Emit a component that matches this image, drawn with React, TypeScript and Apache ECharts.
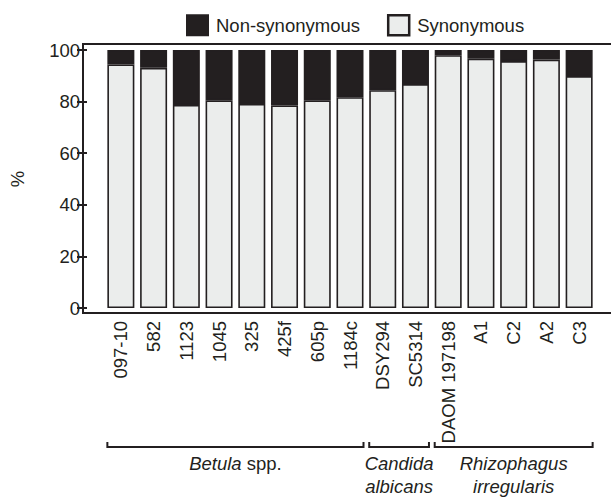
import React, { useEffect, useRef } from "react";
import * as echarts from "echarts";

// Isolates / strains on the category axis
const categories = [
  "097-10", "582", "1123", "1045", "325", "425f", "605p", "1184c",
  "DSY294", "SC5314",
  "DAOM 197198", "A1", "C2", "A2", "C3",
];

// Share of synonymous vs non-synonymous changes (%) per isolate
const synonymous = [94.4, 93.1, 78.7, 80.5, 79.1, 78.5, 80.5, 81.7, 84.4, 86.8, 98.0, 96.6, 95.7, 96.3, 89.9];
const nonSynonymous = [5.6, 6.9, 21.3, 19.5, 20.9, 21.5, 19.5, 18.3, 15.6, 13.2, 2.0, 3.4, 4.3, 3.7, 10.1];

// Value-axis ticks
const yTicks = [0, 20, 40, 60, 80, 100];

// Species groups spanning category indices
const groups = [
  { first: 0, last: 7, lines: ["{i|Betula} spp."] },
  { first: 8, last: 9, lines: ["{i|Candida}", "{i|albicans}"] },
  { first: 10, last: 14, lines: ["{i|Rhizophagus}", "{i|irregularis}"] },
];

const INK = "#231f20";
const PAPER = "#ebedec";
const FONT = '"Liberation Sans", Arial, Helvetica, sans-serif';
const FS = 18.5;

const W = 611;
const H = 498;
const GRID_LEFT = 100.5;
const GRID_RIGHT = 15.5;
const GRID_TOP = 50;
const GRID_BOTTOM = 190;
const Y_OFFSET = 17.5;
const BAR_WIDTH = 27;

export default function App() {
  const ref = useRef<HTMLDivElement>(null);

  useEffect(() => {
    if (!ref.current) return;
    const chart = echarts.init(ref.current, null, { renderer: "svg" });

    chart.setOption({
      animation: false,
      backgroundColor: "#ffffff",
      textStyle: { fontFamily: FONT, color: INK },
      legend: {
        data: [
          { name: "Non-synonymous" },
          { name: "Synonymous", itemStyle: { borderWidth: 2.5 } },
        ],
        left: 181,
        top: 9,
        itemWidth: 21,
        itemHeight: 20,
        itemGap: 27,
        icon: "rect",
        textStyle: { fontFamily: FONT, fontSize: FS, color: INK, padding: [0, 0, 0, 3] },
      },
      grid: {
        left: GRID_LEFT,
        right: GRID_RIGHT,
        top: GRID_TOP,
        bottom: GRID_BOTTOM,
        containLabel: false,
      },
      xAxis: {
        type: "category",
        data: categories,
        axisLine: { show: false },
        axisTick: { show: false },
        axisLabel: {
          rotate: 90,
          interval: 0,
          margin: 13,
          fontFamily: FONT,
          fontSize: FS,
          color: INK,
        },
      },
      yAxis: {
        type: "value",
        min: yTicks[0],
        max: yTicks[yTicks.length - 1],
        interval: yTicks[1] - yTicks[0],
        offset: Y_OFFSET,
        axisLine: { show: false },
        axisTick: { show: true, length: 10, lineStyle: { color: INK, width: 2 } },
        splitLine: { show: false },
        axisLabel: { margin: 7, fontFamily: FONT, fontSize: FS, color: INK },
        name: "%",
        nameLocation: "middle",
        nameRotate: 90,
        nameGap: 60,
        nameTextStyle: { fontFamily: FONT, fontSize: FS, color: INK },
      },
      series: [
        {
          name: "Synonymous",
          type: "bar",
          stack: "total",
          barWidth: BAR_WIDTH,
          data: synonymous,
          itemStyle: { color: PAPER, borderColor: INK, borderWidth: 1.6 },
        },
        {
          name: "Non-synonymous",
          type: "bar",
          stack: "total",
          barWidth: BAR_WIDTH,
          data: nonSynonymous,
          itemStyle: { color: INK, borderColor: INK, borderWidth: 1.6 },
        },
      ],
    });

    // Frame and group brackets, positioned from the axes' own scales
    const yZero = chart.convertToPixel({ yAxisIndex: 0 }, 0) as number;
    const yFull = chart.convertToPixel({ yAxisIndex: 0 }, 100) as number;
    const frameLeft = GRID_LEFT - Y_OFFSET;
    const frameTop = yFull - 6;
    const frameBottom = yZero + 5;

    const elements: any[] = [
      {
        type: "polyline",
        shape: {
          points: [
            [W, frameTop],
            [frameLeft, frameTop],
            [frameLeft, frameBottom],
            [W, frameBottom],
          ],
        },
        style: { stroke: INK, lineWidth: 2, fill: null },
        silent: true,
      },
    ];

    const bracketY = 447;
    groups.forEach((g) => {
      const x1 = (chart.convertToPixel({ xAxisIndex: 0 }, categories[g.first]) as number) - BAR_WIDTH / 2;
      const x2 = (chart.convertToPixel({ xAxisIndex: 0 }, categories[g.last]) as number) + BAR_WIDTH / 2;
      elements.push({
        type: "polyline",
        shape: {
          points: [
            [x1, bracketY - 5],
            [x1, bracketY],
            [x2, bracketY],
            [x2, bracketY - 5],
          ],
        },
        style: { stroke: INK, lineWidth: 2, fill: null },
        silent: true,
      });
      elements.push({
        type: "text",
        x: (x1 + x2) / 2,
        y: 452,
        silent: true,
        style: {
          text: g.lines.join("\n"),
          align: "center",
          verticalAlign: "top",
          fontFamily: FONT,
          fontSize: FS,
          lineHeight: 23,
          fill: INK,
          rich: {
            i: { fontFamily: FONT, fontSize: FS, fontStyle: "italic", lineHeight: 23, fill: INK },
          },
        },
      });
    });

    chart.setOption({ graphic: { elements } });

    return () => chart.dispose();
  }, []);

  return (
    <div
      ref={ref}
      style={{ position: "fixed", left: 0, top: 0, width: W, height: H, background: "#fff" }}
    />
  );
}
